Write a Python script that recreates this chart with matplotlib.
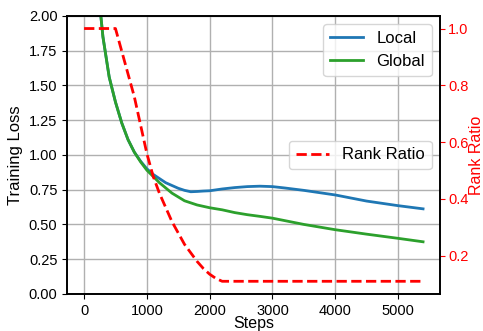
import matplotlib.pyplot as plt
import numpy as np

plt.rcParams['font.family'] = ['Liberation Sans', 'DejaVu Sans']
plt.rcParams['font.size'] = 10.5

# loss curves
steps_local = [100, 200, 300, 400, 500, 600, 700, 800, 900, 1000, 1100, 1200, 1300, 1400, 1500,
               1600, 1700, 1800, 1900, 2000, 2200, 2400, 2600, 2800, 3000, 3200, 3500, 4000,
               4500, 5000, 5400]
local_loss = [3.2, 2.3, 1.85, 1.56, 1.38, 1.23, 1.11, 1.02, 0.955, 0.90, 0.86, 0.83, 0.80, 0.78, 0.76,
              0.745, 0.735, 0.737, 0.74, 0.742, 0.755, 0.765, 0.772, 0.775, 0.772, 0.762, 0.745, 0.712,
              0.668, 0.635, 0.612]

steps_global = [100, 200, 300, 400, 500, 600, 700, 800, 900, 1000, 1200, 1400, 1600, 1800, 2000,
                2200, 2400, 2600, 2800, 3000, 3500, 4000, 4500, 5000, 5400]
global_loss = [3.2, 2.3, 1.85, 1.56, 1.38, 1.23, 1.11, 1.02, 0.95, 0.89, 0.80, 0.725, 0.67, 0.64, 0.62,
               0.605, 0.585, 0.57, 0.558, 0.545, 0.50, 0.462, 0.43, 0.40, 0.375]

# rank ratio
steps_rank = [0, 500, 600, 700, 800, 900, 1000, 1100, 1200, 1300, 1400, 1500, 1600, 1700, 1800,
              1900, 2000, 2100, 2200, 3000, 4000, 5000, 5400]
rank_ratio = [1.0, 1.0, 0.92, 0.84, 0.76, 0.66, 0.56, 0.48, 0.42, 0.37, 0.32, 0.28, 0.24, 0.21, 0.18,
              0.155, 0.135, 0.12, 0.11, 0.11, 0.11, 0.11, 0.11]

fig = plt.figure(figsize=(4.83, 3.31), dpi=100)
ax = fig.add_axes([0.139, 0.112, 0.772, 0.84])
ax.plot(steps_local, local_loss, color='#1f77b4', lw=2, label='Local')
ax.plot(steps_global, global_loss, color='#2ca02c', lw=2, label='Global')
ax.set_ylim(0, 2.0)
ax.set_xlim(-270, 5670)
ax.set_xticks([0, 1000, 2000, 3000, 4000, 5000])
ax.set_yticks(np.arange(0, 2.01, 0.25))
ax.grid(True, color='#b0b0b0', lw=1)
ax.set_xlabel('Steps', fontsize=11.5, labelpad=-1)
ax.set_ylabel('Training Loss', fontsize=12)
ax.legend(loc='upper right', fontsize=12)

ax2 = ax.twinx()
ax2.plot(steps_rank, rank_ratio, color='red', lw=2, ls='--', label='Rank Ratio')
ax2.set_ylim(0.0655, 1.0445)
ax2.set_yticks([0.2, 0.4, 0.6, 0.8, 1.0])
ax2.tick_params(axis='y', colors='red', pad=2.5)
ax2.set_ylabel('Rank Ratio', color='red', fontsize=11.5, labelpad=0)
ax2.legend(loc='center right', fontsize=12)

for a in (ax, ax2):
    for s in a.spines.values():
        s.set_linewidth(1.2)

fig.savefig('out.png', dpi=100)
